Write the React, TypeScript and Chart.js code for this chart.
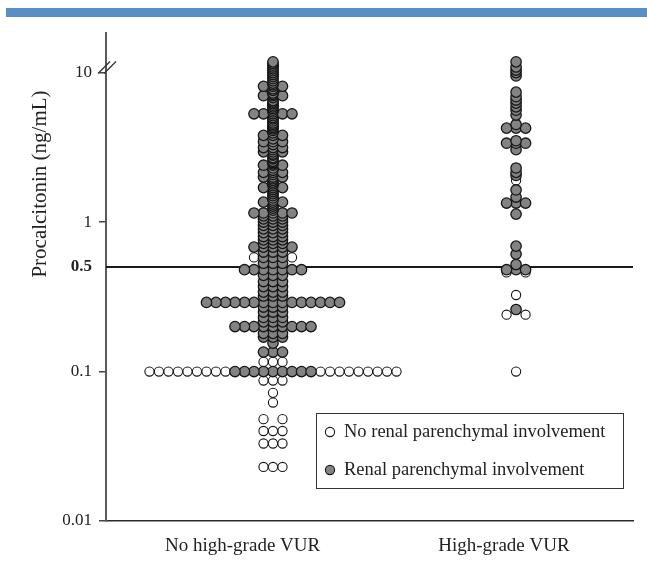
import React, { useEffect, useRef } from "react";
import { Chart, registerables } from "chart.js";

Chart.register(...registerables);

// ---------- data ----------
const GROUPS = ["No high-grade VUR", "High-grade VUR"];
const GROUP_X = [1, 2];
const LABEL_X = [0.875, 1.95];
const SERIES = ["No renal parenchymal involvement", "Renal parenchymal involvement"];
const Y_TICKS = [0.01, 0.1, 0.5, 1, 10];
const THRESHOLD = 0.5;
const BREAK_AT = 10;
const Y_TITLE = "Procalcitonin (ng/mL)";

// rows: [value (ng/mL), number of patients]
const RENAL_NO_HIGH: [number, number][] = [
  [11.8, 1], [11.5, 1], [11.2, 1], [10.9, 1], [10.6, 1], [10.3, 1], [10.0, 1], [9.7, 1], [9.4, 1], [9.1, 1], [8.8, 1], [8.5, 1],
  [8.3, 1], [8.1, 3], [7.8, 1], [7.6, 1], [7.3, 1], [7.15, 1], [7.0, 3], [6.8, 1], [6.5, 1], [6.35, 1], [6.2, 1], [6.05, 1],
  [5.9, 1], [5.75, 1], [5.6, 1], [5.45, 1], [5.3, 5], [5.15, 1], [5.0, 1], [4.9, 1], [4.75, 1], [4.6, 1], [4.5, 1], [4.4, 1],
  [4.3, 1], [4.2, 1], [4.1, 1], [3.95, 1], [3.8, 3], [3.6, 1], [3.45, 3], [3.3, 1], [3.15, 3], [3.05, 1], [2.95, 3], [2.85, 1],
  [2.8, 1], [2.7, 1], [2.65, 1], [2.55, 1], [2.5, 1], [2.45, 1], [2.4, 3], [2.3, 1], [2.22, 1], [2.15, 3], [2.08, 1], [2.0, 3],
  [1.95, 1], [1.9, 1], [1.85, 1], [1.8, 1], [1.75, 1], [1.7, 3], [1.65, 1], [1.6, 1], [1.55, 1], [1.5, 1], [1.45, 1], [1.4, 1],
  [1.36, 3], [1.32, 1], [1.28, 1], [1.24, 1], [1.2, 1], [1.15, 5], [1.1, 3], [1.05, 3], [1.0, 3], [0.95, 3],
  [0.9, 3], [0.85, 3], [0.8, 3], [0.76, 3], [0.72, 3], [0.68, 5], [0.63, 3], [0.58, 3], [0.53, 3], [0.48, 7], [0.44, 3], [0.4, 3],
  [0.37, 3], [0.34, 3], [0.32, 3], [0.29, 15], [0.27, 3], [0.25, 3], [0.23, 3], [0.215, 3], [0.2, 9], [0.18, 3], [0.17, 3],
  [0.155, 1], [0.135, 3], [0.1, 9],
];
const NORENAL_NO_HIGH: [number, number][] = [
  [0.58, 2], [0.116, 3], [0.1, 18], [0.087, 3], [0.072, 1], [0.062, 1], [0.048, 2], [0.04, 3], [0.033, 3], [0.023, 3],
];
const RENAL_HIGH: [number, number][] = [
  [11.8, 1], [10.9, 1], [10.4, 1], [10.0, 1], [9.5, 1],
  [7.4, 1], [6.9, 1], [6.55, 1], [6.25, 1], [5.9, 1], [5.6, 1], [5.2, 1],
  [4.5, 1], [4.25, 3], [3.5, 1], [3.37, 3], [3.05, 1],
  [2.3, 1], [2.15, 1], [2.05, 1], [1.64, 1], [1.47, 1], [1.34, 3], [1.13, 1],
  [0.69, 1], [0.61, 1], [0.52, 1], [0.48, 3], [0.26, 1],
];
const NORENAL_HIGH: [number, number][] = [
  [1.9, 1], [0.46, 2], [0.325, 1], [0.24, 2], [0.1, 1],
];

// ---------- styles / layout constants ----------
const W = 647;
const H = 568;
const FONT = '"Liberation Serif", "Times New Roman", Times, serif';
const X_MIN = 0.313;
const X_MAX = 2.481;
const Y_MIN = 0.01;
const Y_MAX = 18.4;
const STEP = 9.5 / 243; // horizontal spacing of tied points, in x units
const GRAY = "#838383";
const EDGE = "#161616";

type Pt = { x: number; y: number };

function layoutGroup(gi: number, renal: [number, number][], noRenal: [number, number][]) {
  const map = new Map<number, { g: number; w: number }>();
  for (const [v, c] of renal) {
    const e = map.get(v) || { g: 0, w: 0 };
    e.g += c;
    map.set(v, e);
  }
  for (const [v, c] of noRenal) {
    const e = map.get(v) || { g: 0, w: 0 };
    e.w += c;
    map.set(v, e);
  }
  const r: Pt[] = [];
  const n0: Pt[] = [];
  const values = [...map.keys()].sort((a, b) => a - b);
  for (const v of values) {
    const { g, w } = map.get(v)!;
    const n = g + w;
    const slots: number[] = [];
    if (n % 2 === 1) slots.push(0);
    for (let k = 1; slots.length < n; k++) slots.push(-k, k);
    slots.slice(0, g).forEach((s) => r.push({ x: GROUP_X[gi] + s * STEP, y: v }));
    slots.slice(g, n).forEach((s) => n0.push({ x: GROUP_X[gi] + s * STEP, y: v }));
  }
  return { renal: r, noRenal: n0 };
}

const overlayPlugin = {
  id: "overlay",
  beforeDatasetsDraw(chart: any) {
    const { ctx, chartArea, scales } = chart;
    const y = scales.y.getPixelForValue(THRESHOLD);
    ctx.save();
    ctx.strokeStyle = "#1a1a1a";
    ctx.lineWidth = 2;
    ctx.beginPath();
    ctx.moveTo(chartArea.left, y);
    ctx.lineTo(chartArea.right, y);
    ctx.stroke();
    ctx.restore();
  },
  afterDraw(chart: any) {
    const { ctx, chartArea, scales } = chart;
    ctx.save();
    // y title
    ctx.translate(40, 184);
    ctx.rotate(-Math.PI / 2);
    ctx.fillStyle = "#222";
    ctx.font = `21px ${FONT}`;
    ctx.textAlign = "center";
    ctx.textBaseline = "middle";
    ctx.fillText(Y_TITLE, 0, 0);
    ctx.restore();

    // axis break marks
    const by = scales.y.getPixelForValue(BREAK_AT);
    const bx = chartArea.left;
    ctx.save();
    ctx.strokeStyle = "#333";
    ctx.lineWidth = 1.3;
    ctx.beginPath();
    ctx.moveTo(bx - 8, by + 1);
    ctx.lineTo(bx + 4, by - 11);
    ctx.moveTo(bx - 2, by + 1);
    ctx.lineTo(bx + 10, by - 11);
    ctx.stroke();
    ctx.restore();

    // legend
    const lx = 316.5, ly = 413.5, lw = 307, lh = 75;
    ctx.save();
    ctx.strokeStyle = "#333";
    ctx.lineWidth = 1;
    ctx.strokeRect(lx, ly, lw, lh);
    const items = [...chart.data.datasets].reverse();
    items.forEach((ds: any, i: number) => {
      const cy = 432 + i * 38;
      ctx.beginPath();
      ctx.arc(330, cy, 4.6, 0, Math.PI * 2);
      ctx.fillStyle = ds.backgroundColor;
      ctx.fill();
      ctx.strokeStyle = ds.borderColor;
      ctx.lineWidth = 1.1;
      ctx.stroke();
      ctx.fillStyle = "#222";
      ctx.font = `18.5px ${FONT}`;
      ctx.textAlign = "left";
      ctx.textBaseline = "middle";
      ctx.fillText(ds.label, 344, cy);
    });
    ctx.restore();
  },
};

export default function App() {
  const ref = useRef<HTMLCanvasElement | null>(null);

  useEffect(() => {
    document.body.style.margin = "0";
    document.body.style.overflow = "hidden";
    const canvas = ref.current;
    if (!canvas) return;
    const a = layoutGroup(0, RENAL_NO_HIGH, NORENAL_NO_HIGH);
    const b = layoutGroup(1, RENAL_HIGH, NORENAL_HIGH);

    const chart = new Chart(canvas, {
      type: "scatter",
      data: {
        datasets: [
          {
            label: SERIES[1],
            data: [...a.renal, ...b.renal],
            backgroundColor: GRAY,
            borderColor: EDGE,
            borderWidth: 1.3,
            pointRadius: 5.2,
            pointHoverRadius: 5.2,
          },
          {
            label: SERIES[0],
            data: [...a.noRenal, ...b.noRenal],
            backgroundColor: "#ffffff",
            borderColor: EDGE,
            borderWidth: 1.1,
            pointRadius: 4.6,
            pointHoverRadius: 4.6,
          },
        ],
      },
      options: {
        animation: false,
        responsive: false,
        devicePixelRatio: 1,
        layout: { padding: { top: 33, right: 14, left: 0, bottom: 0 } },
        plugins: { legend: { display: false }, tooltip: { enabled: false } },
        scales: {
          x: {
            type: "linear",
            min: X_MIN,
            max: X_MAX,
            afterFit: (s: any) => {
              s.height = 47;
            },
            afterBuildTicks: (s: any) => {
              s.ticks = LABEL_X.map((v) => ({ value: v }));
            },
            ticks: {
              autoSkip: false,
              maxRotation: 0,
              padding: 14,
              color: "#222",
              font: { family: FONT, size: 19 },
              callback: (_v: any, i: number) => GROUPS[i],
            },
            grid: { display: false, drawTicks: false },
            border: { display: true, color: "#2a2a2a", width: 1.6 },
          },
          y: {
            type: "logarithmic",
            min: Y_MIN,
            max: Y_MAX,
            afterFit: (s: any) => {
              s.width = 106;
            },
            afterBuildTicks: (s: any) => {
              s.ticks = Y_TICKS.map((v) => ({ value: v }));
            },
            ticks: {
              autoSkip: false,
              padding: 7,
              color: "#222",
              font: (c: any) => ({
                family: FONT,
                size: 17,
                weight: c.tick && c.tick.value === THRESHOLD ? "bold" : "normal",
              }),
              callback: (v: any) => String(v),
            },
            grid: {
              drawOnChartArea: false,
              tickLength: 7,
              lineWidth: 1.5,
              color: (c: any) => (c.tick && c.tick.value === THRESHOLD ? "rgba(0,0,0,0)" : "#444"),
            },
            border: { color: "#5a5a5a", width: 2 },
          },
        },
      },
      plugins: [overlayPlugin],
    } as any);

    return () => chart.destroy();
  }, []);

  return (
    <div style={{ position: "relative", width: W, height: H, overflow: "hidden", background: "#fff" }}>
      <div style={{ position: "absolute", left: 6, top: 8, width: W - 6, height: 9, background: "#5a8fc4" }} />
      <canvas ref={ref} width={W} height={H} style={{ display: "block" }} />
    </div>
  );
}
